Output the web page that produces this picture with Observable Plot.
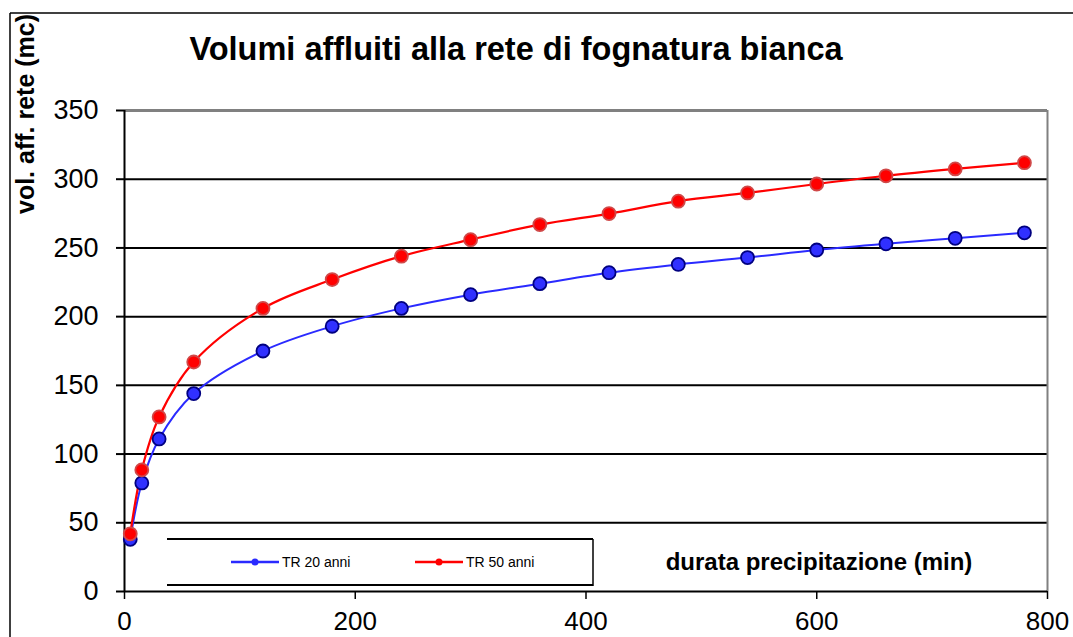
<!DOCTYPE html>
<html>
<head>
<meta charset="utf-8">
<script src="https://cdn.jsdelivr.net/npm/d3@7"></script>
<script src="https://cdn.jsdelivr.net/npm/@observablehq/plot@0.6"></script>
<style>
  html, body { margin: 0; padding: 0; background: #fff; }
  #chart svg { display: block; }
</style>
</head>
<body>
<div id="chart"></div>
<script>
const durations = [5, 15, 30, 60, 120, 180, 240, 300, 360, 420, 480, 540, 600, 660, 720, 780];
const tr20 = [38, 79, 111, 144, 175, 193, 206, 216, 224, 232, 238, 243, 248.5, 253, 257, 261];
const tr50 = [42, 88.5, 127, 167, 206, 227, 244, 256, 267, 275, 284, 290, 296.5, 302.5, 307.5, 312];
const seriesNames = ["TR 20 anni", "TR 50 anni"];
const yTicks = [0, 50, 100, 150, 200, 250, 300, 350];
const xTicks = [0, 200, 400, 600, 800];
const gridValues = [50, 100, 150, 200, 250, 300];
const title = "Volumi affluiti alla rete di fognatura bianca";
const yLabel = "vol. aff. rete (mc)";
const xLabel = "durata precipitazione (min)";

const rows20 = durations.map((d, i) => ({x: d, y: tr20[i], s: seriesNames[0]}));
const rows50 = durations.map((d, i) => ({x: d, y: tr50[i], s: seriesNames[1]}));

const plot = Plot.plot({
  width: 1073,
  height: 637,
  marginLeft: 124,
  marginRight: 26,
  marginTop: 110,
  marginBottom: 46,
  style: {fontFamily: "'Liberation Sans', Arial, sans-serif", fontSize: "26px", color: "#000", background: "#fff"},
  x: {domain: [0, 800], ticks: xTicks, label: null},
  y: {domain: [0, 350], ticks: yTicks, label: null},
  marks: [
    Plot.ruleY(gridValues, {stroke: "#000", strokeWidth: 2}),
    Plot.ruleY([350], {stroke: "#808080", strokeWidth: 3}),
    Plot.ruleX([800], {stroke: "#808080", strokeWidth: 2}),
    Plot.ruleY([0], {stroke: "#000", strokeWidth: 2}),
    Plot.ruleX([0], {stroke: "#000", strokeWidth: 2}),
    Plot.axisY({ticks: yTicks, tickSize: 8, tickPadding: 18, fontSize: 27, strokeWidth: 2, label: null}),
    Plot.axisX({ticks: xTicks, tickSize: 8, tickPadding: 12, fontSize: 26, strokeWidth: 1.5, label: null}),
    Plot.line(rows20, {x: "x", y: "y", stroke: "#2a2aff", strokeWidth: 2, curve: "catmull-rom"}),
    Plot.line(rows50, {x: "x", y: "y", stroke: "#ff0000", strokeWidth: 2.2, curve: "catmull-rom"}),
    Plot.dot(rows20, {x: "x", y: "y", r: 6.5, fill: "#3030ff", stroke: "#000080", strokeWidth: 1.8}),
    Plot.dot(rows50, {x: "x", y: "y", r: 6.5, fill: "#ff0000", stroke: "#d04848", strokeWidth: 1.8})
  ]
});

document.getElementById("chart").appendChild(plot);

const svg = d3.select(plot);
const font = "'Liberation Sans', Arial, sans-serif";

// title
svg.append("text")
  .attr("x", 516).attr("y", 60)
  .attr("text-anchor", "middle")
  .attr("font-family", font).attr("font-weight", "bold").attr("font-size", 32.5)
  .attr("fill", "#000")
  .text(title);

// y axis title (rotated)
svg.append("text")
  .attr("transform", "translate(34,214) rotate(-90)")
  .attr("text-anchor", "start")
  .attr("font-family", font).attr("font-weight", "bold").attr("font-size", 25)
  .attr("fill", "#000")
  .text(yLabel);

// clip area above the outer border
svg.append("rect").attr("x", 0).attr("y", 0).attr("width", 1073).attr("height", 12).attr("fill", "#fff");
svg.append("line").attr("x1", 10).attr("x2", 1073).attr("y1", 13).attr("y2", 13).attr("stroke", "#000").attr("stroke-width", 1.5);
svg.append("line").attr("x1", 10).attr("x2", 10).attr("y1", 13).attr("y2", 637).attr("stroke", "#000").attr("stroke-width", 1.5);

// x axis title inside plot
svg.append("text")
  .attr("x", 819).attr("y", 570)
  .attr("text-anchor", "middle")
  .attr("font-family", font).attr("font-weight", "bold").attr("font-size", 24)
  .attr("fill", "#000")
  .text(xLabel);

// legend box
const lg = svg.append("g").attr("text-anchor", "start");
lg.append("rect").attr("x", 167).attr("y", 540).attr("width", 426).attr("height", 45).attr("fill", "#fff");
lg.append("line").attr("x1", 167).attr("x2", 593).attr("y1", 539).attr("y2", 539).attr("stroke", "#000").attr("stroke-width", 2);
lg.append("line").attr("x1", 167).attr("x2", 593).attr("y1", 585).attr("y2", 585).attr("stroke", "#000").attr("stroke-width", 2);
lg.append("line").attr("x1", 593).attr("x2", 593).attr("y1", 539).attr("y2", 586).attr("stroke", "#000").attr("stroke-width", 1.5);

const legendItems = [
  {name: seriesNames[0], color: "#2a2aff", x: 231},
  {name: seriesNames[1], color: "#ff0000", x: 415}
];
legendItems.forEach(it => {
  lg.append("line").attr("x1", it.x).attr("x2", it.x + 48).attr("y1", 562).attr("y2", 562)
    .attr("stroke", it.color).attr("stroke-width", 2.5);
  lg.append("circle").attr("cx", it.x + 24).attr("cy", 562).attr("r", 3.5).attr("fill", it.color);
  lg.append("text").attr("x", it.x + 51).attr("y", 567)
    .attr("text-anchor", "start")
    .attr("font-family", font).attr("font-size", 14).attr("fill", "#000")
    .text(it.name);
});
</script>
</body>
</html>
